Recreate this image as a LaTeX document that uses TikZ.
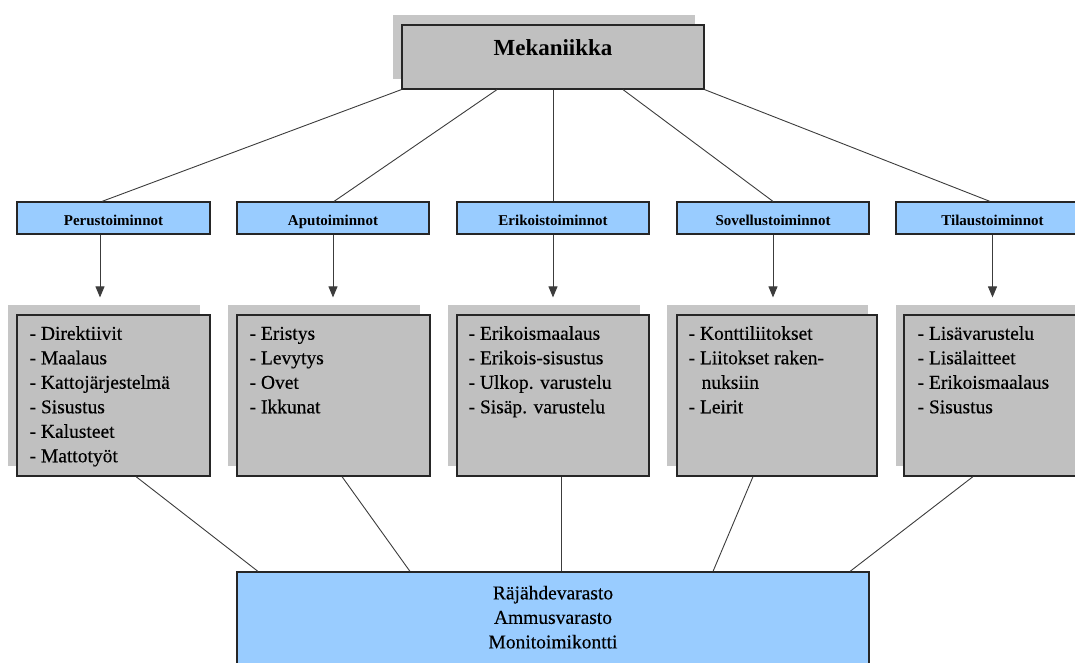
\documentclass[tikz,border=0pt]{standalone}
\usepackage{fontspec}
\setmainfont{Liberation Serif}
\usetikzlibrary{arrows.meta}
\definecolor{boxgray}{HTML}{C0C0C0}
\definecolor{shadowgray}{HTML}{C6C6C6}
\definecolor{skyblue}{HTML}{99CCFF}
\definecolor{edgedark}{HTML}{262626}
\definecolor{linkgray}{HTML}{3C3C3C}
\begin{document}
\begin{tikzpicture}[x=1pt,y=-1pt,
  panel/.style={draw=edgedark, line width=1.2pt, fill=boxgray, inner sep=0pt},
  backing/.style={fill=shadowgray, inner sep=0pt},
  tab/.style={draw=edgedark, line width=1.2pt, fill=skyblue, minimum width=193pt,
    minimum height=32pt, inner sep=0pt, font=\bfseries\fontsize{15}{18}\selectfont,
    text height=14pt, text depth=0pt},
  itemlist/.style={anchor=north west, inner sep=0pt, align=left,
    font=\addfontfeature{FakeBold=0.4}\fontsize{19.5}{24.5}\selectfont},
  link/.style={draw=linkgray, line width=0.9pt},
  drop/.style={link, -{Triangle[width=9pt,length=11pt]}, shorten >=17pt},
]
\useasboundingbox (0,0) rectangle (1075,662);
\clip (0,0) rectangle (1075,662);

% top box with its offset backing
\node[backing, minimum width=302pt, minimum height=64pt] (mekS) at (544,47) {};
\node[panel, minimum width=302pt, minimum height=64pt,
  font=\bfseries\fontsize{23}{27}\selectfont, text height=6pt, text depth=10pt]
  (mek) at (553,57) {Mekaniikka};

% category tabs
\node[tab] (h1) at (113.5,218) {Perustoiminnot};
\node[tab, minimum width=192pt] (h2) at (333,218) {Aputoiminnot};
\node[tab, minimum width=192pt] (h3) at (553,218) {Erikoistoiminnot};
\node[tab, minimum width=192pt] (h4) at (773,218) {Sovellustoiminnot};
\node[tab] (h5) at (992.5,218) {Tilaustoiminnot};

% list panels: backing first, then the framed panel
\node[backing, minimum width=192pt, minimum height=161pt] (b1S) at (104,385.5) {};
\node[backing, minimum width=192pt, minimum height=161pt] (b2S) at (324,385.5) {};
\node[backing, minimum width=192pt, minimum height=161pt] (b3S) at (544,385.5) {};
\node[backing, minimum width=201pt, minimum height=161pt] (b4S) at (767.5,385.5) {};
\node[backing, minimum width=193pt, minimum height=161pt] (b5S) at (992,385.5) {};

\node[panel, minimum width=193pt, minimum height=161pt] (b1) at (113.5,395.5) {};
\node[panel, minimum width=193pt, minimum height=161pt] (b2) at (333.5,395.5) {};
\node[panel, minimum width=192pt, minimum height=161pt] (b3) at (553,395.5) {};
\node[panel, minimum width=200pt, minimum height=161pt] (b4) at (777,395.5) {};
\node[panel, minimum width=193pt, minimum height=161pt] (b5) at (1000.5,395.5) {};

\node[itemlist] (t1) at ([shift={(13,8)}]b1.north west)
  {\strut- Direktiivit\\- Maalaus\\- Kattojärjestelmä\\- Sisustus\\- Kalusteet\\- Mattotyöt};
\node[itemlist] (t2) at ([shift={(13,8)}]b2.north west)
  {\strut- Eristys\\- Levytys\\- Ovet\\- Ikkunat};
\node[itemlist] (t3) at ([shift={(12,8)}]b3.north west)
  {\strut- Erikoismaalaus\\- Erikois-sisustus\\- Ulkop. varustelu\\- Sisäp. varustelu};
\node[itemlist] (t4) at ([shift={(12,8)}]b4.north west)
  {\strut- Konttiliitokset\\- Liitokset raken-\\\hspace*{13pt}nuksiin\\- Leirit};
\node[itemlist] (t5) at ([shift={(14,8)}]b5.north west)
  {\strut- Lisävarustelu\\- Lisälaitteet\\- Erikoismaalaus\\- Sisustus};

% storage box at the bottom
\node[draw=edgedark, line width=1.2pt, fill=skyblue, minimum width=632pt,
  minimum height=128pt, inner sep=0pt] (store) at (553,636) {};
\node[anchor=north, align=center, inner sep=0pt,
  font=\addfontfeature{FakeBold=0.3}\fontsize{19.5}{24.5}\selectfont]
  (storetext) at (553,582) {\strut Räjähdevarasto\\Ammusvarasto\\Monitoimikontti};

% connectors from the top box to the tabs
\draw[link] (mek.south west) -- ([xshift=-11.5pt]h1.north);
\draw[link] ([xshift=-56pt]mek.south) -- ([xshift=1pt]h2.north);
\draw[link] (mek.south) -- (h3.north);
\draw[link] ([xshift=70pt]mek.south) -- (h4.north);
\draw[link] (mek.south east) -- ([xshift=-2.5pt]h5.north);

% arrows from the tabs down to the panels
\draw[drop] ([xshift=-13.5pt]h1.south) -- ([xshift=-13.5pt]h1.south |- b1.north);
\draw[drop] (h2.south) -- (h2.south |- b2.north);
\draw[drop] (h3.south) -- (h3.south |- b3.north);
\draw[drop] (h4.south) -- (h4.south |- b4.north);
\draw[drop] (h5.south) -- (h5.south |- b5.north);

% connectors from the panels to the storage box
\draw[link] ([xshift=22.5pt]b1.south) -- ([xshift=-295pt]store.north);
\draw[link] ([xshift=8.5pt]b2.south) -- ([xshift=-143pt]store.north);
\draw[link] ([xshift=8pt]b3.south) -- ([xshift=8pt]store.north);
\draw[link] ([xshift=-24pt]b4.south) -- ([xshift=160pt]store.north);
\draw[link] ([xshift=-27.5pt]b5.south) -- ([xshift=297pt]store.north);
\end{tikzpicture}
\end{document}
